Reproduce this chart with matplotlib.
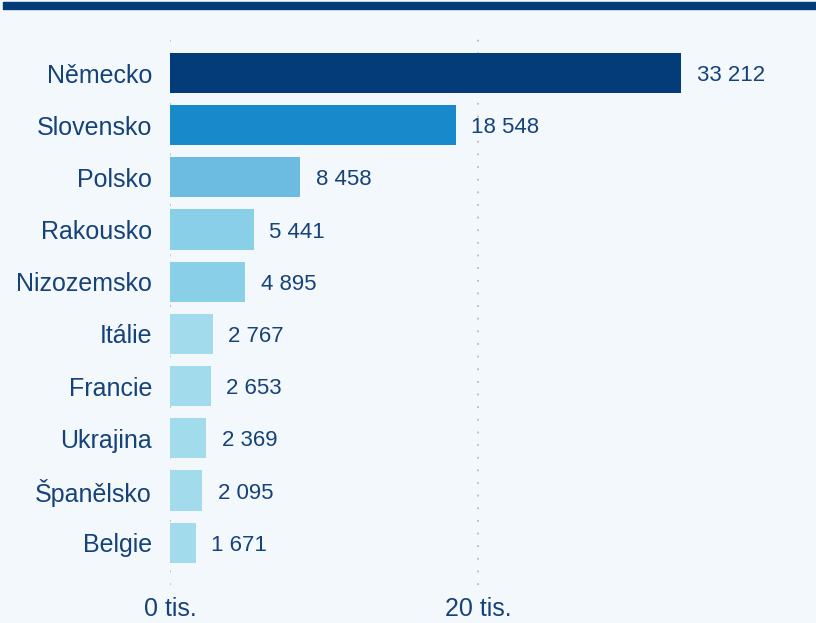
import matplotlib.pyplot as plt
from matplotlib.patches import Rectangle

countries = ['Německo', 'Slovensko', 'Polsko', 'Rakousko', 'Nizozemsko',
             'Itálie', 'Francie', 'Ukrajina', 'Španělsko', 'Belgie']
values = [33212, 18548, 8458, 5441, 4895, 2767, 2653, 2369, 2095, 1671]
colors = ['#033c79', '#1889cb', '#6bbce0', '#8acfe8', '#8acfe8',
          '#a2dcec', '#a2dcec', '#a2dcec', '#a2dcec', '#a2dcec']
ticks = [0, 20000]
tick_labels = ['0 tis.', '20 tis.']

bg = '#f3f8fc'
txt = '#16427a'
plt.rcParams['font.family'] = ['Liberation Sans', 'DejaVu Sans']

W, H = 816, 623
fig = plt.figure(figsize=(W / 100, H / 100), dpi=100, facecolor=bg)
fig.patches.append(Rectangle((3 / W, 1 - 9 / H), 1, 7 / H, transform=fig.transFigure,
                             color='#033c79', zorder=5))

ax = fig.add_axes([170 / W, 1 - 585 / H, 1 - 170 / W, (585 - 37) / H])
ax.set_facecolor(bg)

y = list(range(len(countries)))
ax.barh(y, values, height=0.77, color=colors, zorder=3)
for yi, v in zip(y, values):
    ax.text(v + 1000, yi, f'{v:,}'.replace(',', ' '), va='center_baseline', ha='left',
            fontsize=16, color=txt)

ax.set_xlim(0, 41950)
ax.set_ylim(9.81, -0.69)
ax.set_yticks(y)
ax.set_yticklabels(countries, fontsize=18, color=txt)
ax.set_xticks(ticks)
ax.set_xticklabels(tick_labels, fontsize=18, color=txt)
ax.tick_params(length=0)
ax.tick_params(axis='y', pad=13)
ax.tick_params(axis='x', pad=9)
for t in ticks:
    ax.axvline(t, color='#b8bcc0', lw=1.3, ls=(0, (1, 6)), zorder=1)
for s in ax.spines.values():
    s.set_visible(False)

fig.savefig('out.png', dpi=100, facecolor=bg)
